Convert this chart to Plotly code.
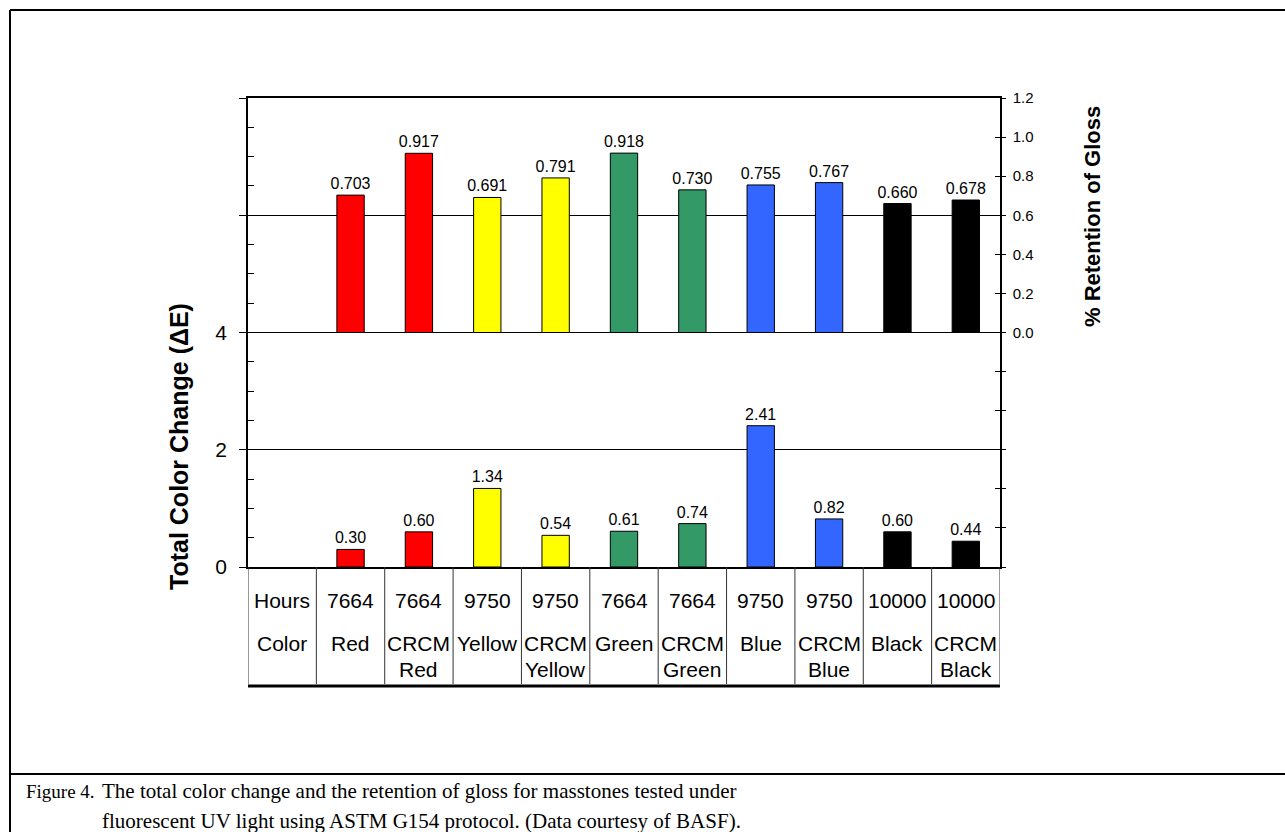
import plotly.graph_objects as go

# ---------------- data ----------------
hours = ["Hours", "7664", "7664", "9750", "9750", "7664", "7664", "9750", "9750", "10000", "10000"]
color_line1 = ["Color", "Red", "CRCM", "Yellow", "CRCM", "Green", "CRCM", "Blue", "CRCM", "Black", "CRCM"]
color_line2 = ["", "", "Red", "", "Yellow", "", "Green", "", "Blue", "", "Black"]
gloss = [None, 0.703, 0.917, 0.691, 0.791, 0.918, 0.730, 0.755, 0.767, 0.660, 0.678]
delta_e = [None, 0.30, 0.60, 1.34, 0.54, 0.61, 0.74, 2.41, 0.82, 0.60, 0.44]
bar_colors = ["#FFFFFF", "#FF0000", "#FF0000", "#FFFF00", "#FFFF00", "#339966", "#339966",
              "#3366FF", "#3366FF", "#000000", "#000000"]
left_ticks = [0, 2, 4, 6, 8]
left_ticktext = ["0", "2", "4", "", ""]
right_ticks = [-1.2, -1.0, -0.8, -0.6, -0.4, -0.2, 0.0, 0.2, 0.4, 0.6, 0.8, 1.0, 1.2]
right_ticktext = ["", "", "", "", "", "", "0.0", "0.2", "0.4", "0.6", "0.8", "1.0", "1.2"]
left_minor = [0.5, 1, 1.5, 2.5, 3, 3.5, 4.5, 5, 5.5, 6.5, 7, 7.5]
caption1 = "The total color change and the retention of gloss for masstones tested under"
caption2 = "fluorescent UV light using ASTM G154 protocol. (Data courtesy of BASF)."

# ---------------- geometry ----------------
W_FIG, H_FIG = 1285, 832
L, R, T, B = 248, 1000, 98, 567
PW, PH = R - L, B - T


def px(x):
    return (x - L) / PW


def py(y):
    return (B - y) / PH


FONT = "Liberation Sans, Arial, sans-serif"
SERIF = "Liberation Serif, Times New Roman, serif"

xs = list(range(len(hours)))

fig = go.Figure()

fig.add_trace(go.Bar(
    x=xs, y=gloss, yaxis="y2", width=0.4,
    marker=dict(color=bar_colors, line=dict(color="black", width=1)),
    text=["" if v is None else f"{v:.3f}" for v in gloss],
    textposition="outside", cliponaxis=False, constraintext="none",
    textfont=dict(family=FONT, size=16, color="black"),
    hoverinfo="skip", showlegend=False,
))
fig.add_trace(go.Bar(
    x=xs, y=delta_e, yaxis="y", width=0.4,
    marker=dict(color=bar_colors, line=dict(color="black", width=1)),
    text=["" if v is None else f"{v:.2f}" for v in delta_e],
    textposition="outside", cliponaxis=False, constraintext="none",
    textfont=dict(family=FONT, size=16, color="black"),
    hoverinfo="skip", showlegend=False,
))
# invisible trace to activate the inner-tick axis
fig.add_trace(go.Scatter(x=[0], y=[0], yaxis="y3", mode="markers",
                         marker=dict(opacity=0), hoverinfo="skip", showlegend=False))

shapes = []
line_col = "black"
# outer frame
shapes.append(dict(type="line", xref="paper", yref="paper", x0=px(10), x1=px(10),
                   y0=py(10), y1=py(840), line=dict(color=line_col, width=2)))
shapes.append(dict(type="line", xref="paper", yref="paper", x0=px(10), x1=px(1295),
                   y0=py(10), y1=py(10), line=dict(color=line_col, width=2)))
shapes.append(dict(type="line", xref="paper", yref="paper", x0=px(10), x1=px(1295),
                   y0=py(774), y1=py(774), line=dict(color=line_col, width=2)))
# table vertical lines
for i in range(len(hours) + 1):
    shapes.append(dict(type="line", xref="x", yref="paper", x0=i - 0.5, x1=i - 0.5,
                       y0=0, y1=py(684), line=dict(color="#333333", width=1)))
# thick bottom line of the table
shapes.append(dict(type="line", xref="x", yref="paper", x0=-0.5, x1=len(hours) - 0.5,
                   y0=py(686), y1=py(686), line=dict(color="black", width=3)))

annotations = []
TSIZE = 21
for i in xs:
    annotations.append(dict(x=i, y=py(600), xref="x", yref="paper", text=hours[i],
                            showarrow=False, font=dict(family=FONT, size=TSIZE, color="black"),
                            xanchor="center", yanchor="middle"))
    annotations.append(dict(x=i, y=py(643), xref="x", yref="paper", text=color_line1[i],
                            showarrow=False, font=dict(family=FONT, size=TSIZE, color="black"),
                            xanchor="center", yanchor="middle"))
    if color_line2[i]:
        annotations.append(dict(x=i, y=py(669), xref="x", yref="paper", text=color_line2[i],
                                showarrow=False, font=dict(family=FONT, size=TSIZE, color="black"),
                                xanchor="center", yanchor="middle"))

# axis titles
annotations.append(dict(x=px(179), y=py(447), xref="paper", yref="paper",
                        text="<b>Total Color Change (ΔE)</b>", textangle=-90,
                        showarrow=False, font=dict(family=FONT, size=25, color="black"),
                        xanchor="center", yanchor="middle"))
annotations.append(dict(x=px(1092), y=py(217), xref="paper", yref="paper",
                        text="<b>% Retention of Gloss</b>", textangle=-90,
                        showarrow=False, font=dict(family=FONT, size=22, color="black"),
                        xanchor="center", yanchor="middle"))
# caption
CSIZE = 21
annotations.append(dict(x=px(24), y=py(791), xref="paper", yref="paper", text="Figure 4.",
                        showarrow=False, font=dict(family=SERIF, size=19, color="black"),
                        xanchor="left", yanchor="middle"))
annotations.append(dict(x=px(100), y=py(791), xref="paper", yref="paper", text=caption1,
                        showarrow=False, font=dict(family=SERIF, size=CSIZE, color="black"),
                        xanchor="left", yanchor="middle"))
annotations.append(dict(x=px(100), y=py(821), xref="paper", yref="paper", text=caption2,
                        showarrow=False, font=dict(family=SERIF, size=CSIZE, color="black"),
                        xanchor="left", yanchor="middle"))

fig.update_layout(
    width=W_FIG, height=H_FIG, autosize=False,
    margin=dict(l=L, r=W_FIG - R, t=T, b=H_FIG - B, pad=0),
    paper_bgcolor="white", plot_bgcolor="white",
    barmode="overlay", showlegend=False,
    font=dict(family=FONT, color="black"),
    xaxis=dict(range=[-0.5, len(hours) - 0.5], showticklabels=False, ticks="",
               showgrid=False, zeroline=False, showline=True, linecolor="black",
               linewidth=1.5, mirror=True, fixedrange=True),
    yaxis=dict(range=[0, 8], tickmode="array", tickvals=left_ticks, ticktext=left_ticktext,
               ticks="outside", ticklen=7, tickcolor="black", tickwidth=1,
               tickfont=dict(family=FONT, size=21, color="black"),
               showgrid=True, gridcolor="black", gridwidth=1, zeroline=False,
               showline=True, linecolor="black", linewidth=1.5,
               minor=dict(tickmode="array", tickvals=left_minor, ticks="inside", ticklen=6,
                          tickcolor="black", tickwidth=1, showgrid=False),
               ticklabelstandoff=8, fixedrange=True),
    yaxis2=dict(range=[-1.2, 1.2], overlaying="y", side="right", tickmode="array",
                tickvals=right_ticks, ticktext=right_ticktext,
                ticks="outside", ticklen=4, tickcolor="black", tickwidth=1,
                tickfont=dict(family=FONT, size=15, color="black"),
                showgrid=False, zeroline=False, showline=True, linecolor="black",
                linewidth=1.5, ticklabelstandoff=4, fixedrange=True),
    yaxis3=dict(range=[-1.2, 1.2], overlaying="y", side="right", tickmode="array",
                tickvals=right_ticks, ticks="inside", ticklen=5, tickcolor="black",
                tickwidth=1, showticklabels=False, showgrid=False, zeroline=False,
                showline=False, fixedrange=True),
    shapes=shapes, annotations=annotations,
)

fig.write_html("out.html", config={"displayModeBar": False})
